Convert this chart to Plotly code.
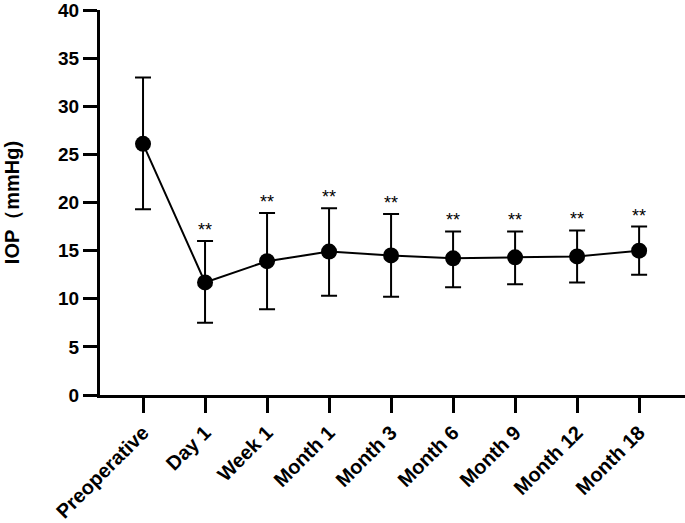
import plotly.graph_objects as go

categories = ["Preoperative", "Day 1", "Week 1", "Month 1", "Month 3",
              "Month 6", "Month 9", "Month 12", "Month 18"]
iop_mean = [26.1, 11.7, 13.9, 14.9, 14.5, 14.2, 14.3, 14.4, 15.0]
iop_upper = [33.0, 16.0, 18.9, 19.4, 18.8, 17.0, 17.0, 17.1, 17.5]
iop_lower = [19.3, 7.5, 8.9, 10.3, 10.2, 11.2, 11.5, 11.7, 12.5]
significance = ["", "**", "**", "**", "**", "**", "**", "**", "**"]
y_ticks = [0, 5, 10, 15, 20, 25, 30, 35, 40]

err_plus = [u - m for u, m in zip(iop_upper, iop_mean)]
err_minus = [m - l for m, l in zip(iop_mean, iop_lower)]

x_idx = list(range(len(categories)))

fig = go.Figure()
fig.add_trace(go.Scatter(
    x=x_idx, y=iop_mean, mode="lines+markers",
    line=dict(color="black", width=2),
    marker=dict(color="black", size=16),
    error_y=dict(type="data", symmetric=False, array=err_plus,
                 arrayminus=err_minus, color="black", thickness=2, width=8),
    showlegend=False,
))

for xi, up, s in zip(x_idx, iop_upper, significance):
    if s:
        fig.add_annotation(x=xi, y=up, text=s, showarrow=False,
                           yanchor="bottom", yshift=-1,
                           font=dict(family="Liberation Sans, Arial", size=18, color="black"))

tick_font = dict(family="Liberation Sans, Arial", size=19, color="black", weight="bold")
x_tick_font = dict(family="Liberation Sans, Arial", size=20, color="black", weight="bold")

fig.update_layout(
    width=685, height=523,
    margin=dict(l=100, r=0, t=8, b=128),
    paper_bgcolor="white", plot_bgcolor="white",
    xaxis=dict(
        range=[-0.694, 8.74], tickmode="array", tickvals=x_idx, ticktext=categories,
        tickangle=-45, ticks="outside", ticklen=15, tickwidth=3, tickcolor="black",
        showline=True, linewidth=3, linecolor="black", showgrid=False, zeroline=False,
        tickfont=x_tick_font, ticklabeloverflow="allow",
    ),
    yaxis=dict(
        range=[0, 40], tickmode="array", tickvals=y_ticks,
        ticks="outside", ticklen=14, tickwidth=3, tickcolor="black",
        showline=True, linewidth=3, linecolor="black", showgrid=False, zeroline=False,
        tickfont=tick_font, ticklabeloverflow="allow",
        title=dict(text="IOP（mmHg)", standoff=34,
                   font=dict(family="Liberation Sans, Arial", size=20, color="black", weight="bold")),
    ),
)

fig.write_html("out.html", config={"displayModeBar": False},
               post_script="document.body.style.margin='0';")
